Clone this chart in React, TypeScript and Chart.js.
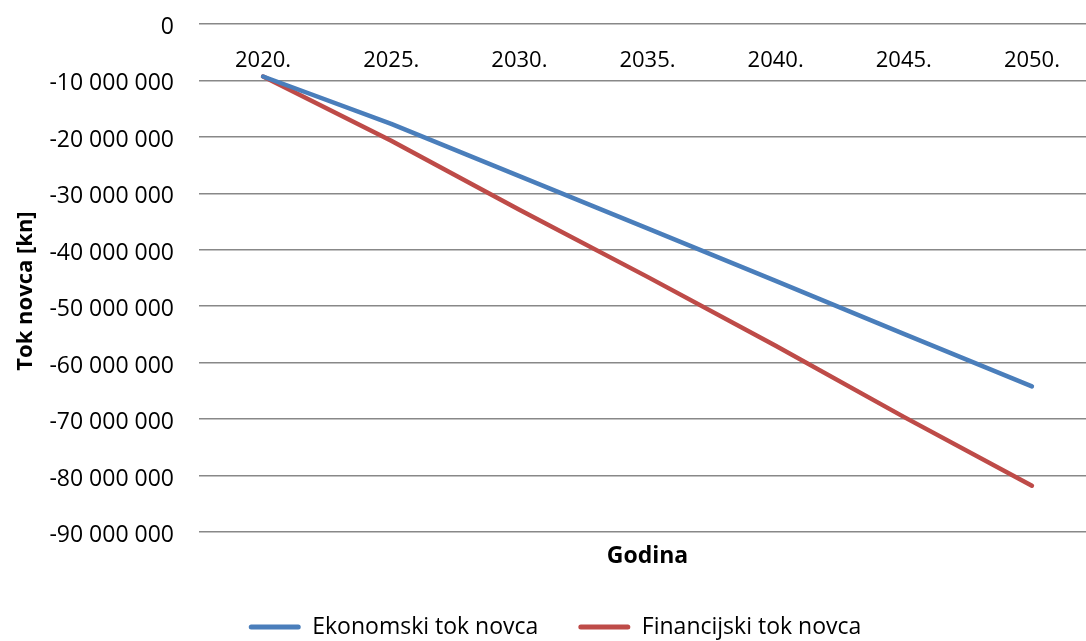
import React, { useEffect, useRef } from "react";
import { Chart, registerables } from "chart.js";

Chart.register(...registerables);

// ---- data ----
const years = ["2020.", "2025.", "2030.", "2035.", "2040.", "2045.", "2050."];
const ekonomski = [-9300000, -17700000, -26950000, -36200000, -45500000, -54900000, -64200000];
const financijski = [-9300000, -20700000, -32900000, -44800000, -57000000, -69600000, -81800000];
const seriesNames = ["Ekonomski tok novca", "Financijski tok novca"];
const yMin = -90000000;
const yMax = 0;
const yStep = 10000000;
const xTitle = "Godina";
const yTitle = "Tok novca [kn]";

const FONT = '"Open Sans", "DejaVu Sans", sans-serif';

function fmt(v: number): string {
  const s = Math.abs(Math.round(v)).toString().replace(/\B(?=(\d{3})+(?!\d))/g, " ");
  return (v < 0 ? "-" : "") + s;
}

const yTitlePlugin = {
  id: "yTitleCustom",
  afterDraw(chart: any) {
    const { ctx, chartArea } = chart;
    ctx.save();
    ctx.translate(12, (chartArea.top + chartArea.bottom) / 2 + 13);
    ctx.rotate(-Math.PI / 2);
    ctx.font = `bold 22px ${FONT}`;
    ctx.fillStyle = "#000";
    ctx.textAlign = "center";
    ctx.textBaseline = "middle";
    ctx.fillText(yTitle, 0, 0);
    ctx.restore();
  },
};

export default function App() {
  const ref = useRef<HTMLCanvasElement | null>(null);

  useEffect(() => {
    if (!ref.current) return;
    Chart.defaults.font.family = FONT;
    const chart = new Chart(ref.current, {
      type: "line",
      data: {
        labels: years,
        datasets: [
          {
            label: seriesNames[0],
            data: ekonomski,
            borderColor: "#4A7EBB",
            backgroundColor: "#4A7EBB",
            borderWidth: 4.5,
            pointRadius: 0,
            borderCapStyle: "round",
            borderJoinStyle: "round",
            tension: 0,
          },
          {
            label: seriesNames[1],
            data: financijski,
            borderColor: "#BE4B48",
            backgroundColor: "#BE4B48",
            borderWidth: 4.5,
            pointRadius: 0,
            borderCapStyle: "round",
            borderJoinStyle: "round",
            tension: 0,
          },
        ],
      },
      options: {
        animation: false,
        responsive: true,
        maintainAspectRatio: false,
        layout: { padding: { top: 24, left: 0, right: 0, bottom: 11.5 } },
        scales: {
          x: {
            type: "category",
            position: { y: 0 } as any,
            offset: true,
            grid: { display: false },
            border: { display: false },
            ticks: {
              color: "#000",
              font: { size: 22, family: FONT },
              padding: 15.5,
              maxRotation: 0,
              autoSkip: false,
            },
          },
          y: {
            type: "linear",
            position: "left",
            min: yMin,
            max: yMax,
            grid: { color: "#888888", lineWidth: 1.5, drawTicks: false },
            border: { display: false },
            ticks: {
              stepSize: yStep,
              color: "#000",
              font: { size: 23, family: FONT },
              padding: 25,
              labelOffset: 3.5,
              callback: (v: any) => fmt(Number(v)),
            },
            afterFit: (scale: any) => {
              scale.width = 185;
              scale.paddingTop = 0;
              scale.paddingBottom = 0;
            },
          },
        },
        plugins: {
          tooltip: { enabled: false },
          title: {
            display: true,
            text: xTitle,
            position: "bottom",
            fullSize: false,
            weight: 500,
            color: "#000",
            font: { size: 23, weight: "bold", family: FONT },
            padding: { top: 10.2, bottom: 5.7 },
          } as any,
          legend: {
            position: "bottom",
            labels: {
              color: "#000",
              font: { size: 23, family: FONT },
              boxWidth: 52,
              boxHeight: 5,
              padding: 40,
              useBorderRadius: true,
              borderRadius: 2.5,
              generateLabels: (c: any) =>
                Chart.defaults.plugins.legend.labels
                  .generateLabels(c)
                  .map((l: any) => ({ ...l, lineWidth: 0, fillStyle: l.strokeStyle })),
            } as any,
          },
        },
      },
      plugins: [yTitlePlugin],
    } as any);
    return () => chart.destroy();
  }, []);

  return (
    <div
      style={{
        position: "fixed",
        left: 0,
        top: 0,
        width: 1086,
        height: 641,
        overflow: "hidden",
        background: "#fff",
      }}
    >
      <div style={{ position: "absolute", left: 14, top: 0, width: 1082, height: 660 }}>
        <canvas ref={ref} />
      </div>
    </div>
  );
}
